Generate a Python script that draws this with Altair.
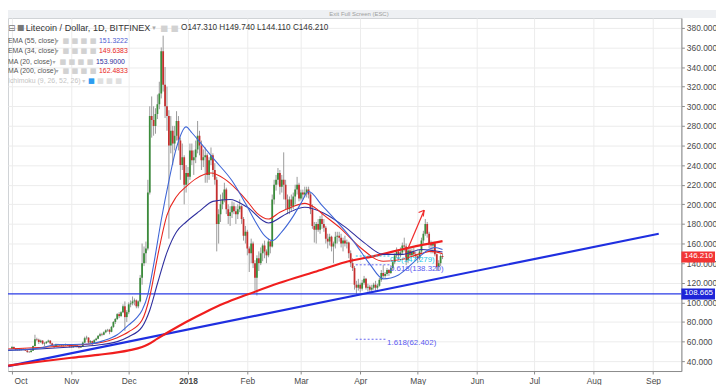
import altair as alt
import pandas as pd

# ---------------- daily candles: [open, high, low, close] ----------------
oct17 = [[53, 55.5, 52.5, 54.5], [54.5, 55, 52.5, 52.8], [52.8, 53.5, 51, 51.6], [51.6, 52.5, 50.8, 51.3],
         [51.3, 53, 50.8, 52], [52, 52.8, 51, 51.6], [51.6, 53, 51.2, 52.2], [52.2, 53, 50.5, 50.8],
         [50.8, 51.5, 48.5, 49.5], [49.5, 50.5, 48.5, 49.3], [49.3, 51.5, 49, 50.8], [50.8, 56, 50.5, 55.5],
         [55.5, 67, 55, 62.5], [62.5, 64, 60.5, 62], [62, 63, 57.5, 59.5], [59.5, 62, 58.5, 61],
         [61, 61.5, 57, 58], [58, 59.5, 55.5, 58.5], [58.5, 60.5, 57.5, 59.8], [59.8, 62, 59, 61],
         [61, 61.5, 57, 58.2], [58.2, 58.8, 55, 56], [56, 57, 53.5, 55], [55, 58, 54.5, 57.2],
         [57.2, 57.8, 55, 56], [56, 57.5, 55.5, 56.5], [56.5, 57, 55, 55.8], [55.8, 56.5, 55, 56.3],
         [56.3, 58, 55.5, 56.8], [56.8, 57.5, 55.5, 56.2], [56.2, 56.8, 54, 55]]
nov17 = [[55, 56, 53.5, 54.5], [54.5, 56, 53.5, 55.2], [55.2, 57.5, 54.5, 56], [56, 56.5, 54, 55],
         [55, 55.5, 53, 54], [54, 55.5, 53.5, 54.8], [54.8, 60, 54.5, 59], [59, 65, 58.5, 63.5],
         [63.5, 66, 62, 64], [64, 64.5, 58, 59], [59, 61.5, 58.5, 60.5], [60.5, 61, 56, 58],
         [58, 62.5, 57.5, 61.5], [61.5, 64, 61, 63], [63, 66.5, 62.5, 66], [66, 69, 65, 67.5],
         [67.5, 69, 65.5, 67], [67, 70.5, 66.5, 69.5], [69.5, 72.5, 68.5, 71.5], [71.5, 73, 70, 72],
         [72, 73, 67.5, 70], [70, 76, 69.5, 75], [75, 81, 74, 80], [80, 84, 78, 83],
         [83, 89, 82, 88], [88, 90, 84, 86], [86, 91, 85, 90], [90, 98, 89, 96],
         [96, 101, 71, 85], [85, 92, 80, 90]]
dec17 = [[90, 100, 88, 98], [98, 102, 95, 99], [99, 106, 97, 101], [101, 104, 97, 102],
         [102, 103, 94, 96], [96, 102, 94, 101], [101, 128, 100, 125], [125, 160, 118, 140],
         [140, 157, 137, 150], [150, 162, 140, 155], [155, 225, 153, 212], [212, 300, 210, 290],
         [290, 310, 268, 286], [286, 300, 270, 280], [280, 298, 272, 292], [292, 312, 287, 302],
         [302, 325, 297, 313], [313, 360, 308, 356], [356, 372, 315, 322], [322, 340, 288, 300],
         [300, 320, 275, 290], [290, 296, 165, 260], [260, 290, 252, 275], [275, 280, 240, 262],
         [262, 280, 255, 270], [270, 295, 265, 285], [285, 290, 255, 265], [265, 268, 225, 240],
         [240, 262, 235, 248], [248, 250, 200, 220], [220, 240, 212, 232]]
jan18 = [[232, 238, 220, 228], [228, 262, 225, 255], [255, 262, 240, 245], [245, 255, 230, 248],
         [248, 265, 242, 256], [256, 285, 252, 270], [270, 275, 250, 260], [260, 265, 235, 245],
         [245, 256, 238, 248], [248, 258, 222, 250], [250, 252, 222, 230], [230, 248, 225, 245],
         [245, 258, 240, 250], [250, 252, 228, 235], [235, 242, 220, 225], [225, 228, 152, 180],
         [180, 195, 160, 190], [190, 210, 182, 200], [200, 212, 195, 205], [205, 222, 202, 215],
         [215, 217, 190, 195], [195, 200, 180, 188], [188, 198, 178, 192], [192, 203, 186, 198],
         [198, 202, 190, 193], [193, 198, 180, 190], [190, 200, 185, 195], [195, 205, 192, 198],
         [198, 199, 180, 185], [185, 187, 163, 168], [168, 178, 160, 172]]
feb18 = [[172, 174, 148, 155], [155, 157, 131, 150], [150, 165, 140, 160], [160, 162, 135, 140],
         [140, 143, 112, 125], [125, 148, 107, 145], [145, 152, 132, 140], [140, 156, 138, 150],
         [150, 160, 142, 158], [158, 163, 145, 152], [152, 154, 140, 148], [148, 165, 146, 162],
         [162, 163, 150, 157], [157, 210, 156, 205], [205, 225, 200, 220], [220, 230, 214, 225],
         [225, 237, 220, 232], [232, 235, 210, 218], [218, 230, 212, 225], [225, 253, 205, 220],
         [220, 225, 195, 205], [205, 210, 190, 195], [195, 208, 190, 205], [205, 210, 193, 198],
         [198, 212, 195, 208], [208, 220, 200, 215], [215, 228, 210, 220], [220, 222, 203, 206]]
mar18 = [[206, 215, 204, 212], [212, 215, 205, 210], [210, 218, 207, 212], [212, 218, 207, 215],
         [215, 218, 206, 210], [210, 212, 190, 195], [195, 200, 175, 178], [178, 182, 161, 174],
         [174, 182, 160, 180], [180, 185, 172, 174], [174, 188, 170, 185], [185, 190, 175, 180],
         [180, 185, 172, 176], [176, 178, 160, 165], [165, 170, 155, 162], [162, 170, 158, 167],
         [167, 168, 152, 157], [157, 162, 140, 160], [160, 172, 155, 167], [167, 172, 160, 168],
         [168, 172, 162, 166], [166, 170, 156, 160], [160, 166, 152, 163], [163, 168, 157, 160],
         [160, 164, 155, 161], [161, 162, 145, 150], [150, 153, 136, 140], [140, 145, 132, 135],
         [135, 137, 113, 118], [118, 122, 108, 115], [115, 124, 112, 118]]
apr18 = [[118, 120, 110, 114], [114, 123, 112, 120], [120, 127, 118, 124], [124, 125, 113, 115],
         [115, 119, 111, 116], [116, 118, 110, 113], [113, 118, 111, 115], [115, 120, 113, 118],
         [118, 122, 112, 115], [115, 119, 113, 117], [117, 125, 116, 123], [123, 133, 121, 130],
         [130, 138, 125, 127], [127, 131, 125, 129], [129, 135, 127, 133], [133, 134, 127, 130],
         [130, 138, 129, 135], [135, 143, 133, 141], [141, 150, 139, 148], [148, 156, 145, 152],
         [152, 154, 144, 148], [148, 156, 146, 151], [151, 161, 149, 158], [158, 166, 152, 157],
         [157, 160, 138, 143], [143, 155, 140, 153], [153, 157, 146, 148], [148, 155, 147, 152],
         [152, 156, 146, 149], [149, 152, 144, 147]]
may18 = [[147, 149, 140, 145], [145, 154, 143, 152], [152, 166, 150, 163], [163, 173, 160, 170],
         [170, 185, 168, 180], [180, 182, 166, 170], [170, 172, 155, 160], [160, 163, 150, 158],
         [158, 162, 150, 160], [160, 162, 147, 149], [149, 150, 132, 136], [136, 143, 133, 140],
         [140, 149, 137, 147.31], [147.31, 149.74, 144.11, 146.21]]

# ---------------- indicator lines (read at sample dates) ----------------
ma200_pts = [("2017-09-29", 35.5), ("2017-10-15", 39.5), ("2017-11-01", 43.5), ("2017-11-15", 46.5),
             ("2017-12-01", 51), ("2017-12-08", 54.5), ("2017-12-11", 57), ("2017-12-16", 63),
             ("2017-12-22", 70), ("2017-12-31", 80), ("2018-01-10", 90), ("2018-01-20", 99),
             ("2018-02-01", 108), ("2018-02-18", 120), ("2018-03-08", 131), ("2018-03-24", 141),
             ("2018-04-10", 148), ("2018-04-27", 156), ("2018-05-14", 162.4833)]
ema55_pts = [("2017-09-29", 51), ("2017-10-15", 52.5), ("2017-11-01", 54.5), ("2017-11-15", 56.5),
             ("2017-11-25", 60), ("2017-12-01", 65), ("2017-12-08", 75), ("2017-12-12", 92),
             ("2017-12-16", 119), ("2017-12-21", 151), ("2017-12-26", 172), ("2017-12-31", 182),
             ("2018-01-07", 193), ("2018-01-14", 203), ("2018-01-23", 205), ("2018-02-01", 197),
             ("2018-02-12", 181), ("2018-02-22", 191), ("2018-03-03", 197), ("2018-03-13", 191),
             ("2018-03-24", 177), ("2018-04-03", 161), ("2018-04-13", 149), ("2018-04-23", 149),
             ("2018-05-03", 154), ("2018-05-14", 151.3222)]
ema34_pts = [("2017-09-29", 52.5), ("2017-10-15", 54), ("2017-11-01", 56), ("2017-11-15", 58.5),
             ("2017-11-25", 64), ("2017-12-01", 70), ("2017-12-08", 82), ("2017-12-12", 106),
             ("2017-12-16", 146), ("2017-12-21", 189), ("2017-12-26", 208), ("2017-12-31", 218),
             ("2018-01-05", 226), ("2018-01-13", 232), ("2018-01-20", 226), ("2018-01-27", 214),
             ("2018-02-01", 203), ("2018-02-06", 191), ("2018-02-12", 185), ("2018-02-18", 192),
             ("2018-02-24", 197), ("2018-03-03", 201), ("2018-03-08", 197), ("2018-03-13", 189),
             ("2018-03-22", 175), ("2018-04-01", 156), ("2018-04-13", 142), ("2018-04-23", 144),
             ("2018-05-03", 150), ("2018-05-08", 152), ("2018-05-14", 149.6383)]
ma20_pts = [("2017-09-29", 51.5), ("2017-10-08", 52), ("2017-10-16", 53.5), ("2017-10-25", 57),
            ("2017-11-02", 57), ("2017-11-10", 57.5), ("2017-11-18", 61), ("2017-11-25", 67),
            ("2017-12-01", 77), ("2017-12-05", 84), ("2017-12-08", 92), ("2017-12-11", 108),
            ("2017-12-14", 138), ("2017-12-18", 184), ("2017-12-22", 224), ("2017-12-26", 258),
            ("2017-12-31", 279), ("2018-01-03", 273), ("2018-01-07", 264), ("2018-01-15", 245),
            ("2018-01-24", 224), ("2018-01-31", 201), ("2018-02-05", 183), ("2018-02-10", 168),
            ("2018-02-14", 163), ("2018-02-19", 172), ("2018-02-25", 188), ("2018-03-01", 201),
            ("2018-03-05", 213), ("2018-03-12", 199), ("2018-03-20", 182), ("2018-03-29", 161),
            ("2018-04-06", 139), ("2018-04-13", 124), ("2018-04-21", 128), ("2018-04-29", 141),
            ("2018-05-06", 153), ("2018-05-10", 156), ("2018-05-14", 153.9)]

# drawings
trend_pts = [("2017-09-29", 35), ("2018-09-04", 170)]
support_level = [108.665]
last_close = 146.21
fib_ratio = ["0.5", "0.618", "1.618"]
fib_price = [147.279, 138.320, 62.402]
fib_start = ["2018-03-29T16:00:00", "2018-03-29T16:00:00", "2018-03-29T16:00:00"]
fib_end = ["2018-04-16T12:00:00", "2018-04-16T12:00:00", "2018-04-15T00:00:00"]
arrow_seg = ["shaft", "shaft", "head1", "head1", "head2", "head2"]
arrow_date = ["2018-04-25T17:00:00", "2018-05-04T10:00:00", "2018-05-01T12:00:00", "2018-05-04T10:00:00",
              "2018-05-03T22:00:00", "2018-05-04T10:00:00"]
arrow_val = [154, 194, 191.6, 194, 187.6, 194]

month_ticks = [(2017, 10), (2017, 11), (2017, 12), (2018, 1), (2018, 2), (2018, 3), (2018, 4),
               (2018, 5), (2018, 6), (2018, 7), (2018, 8), (2018, 9)]
y_ticks = list(range(40, 381, 20))

# ---------------- tables ----------------
rows = oct17 + nov17 + dec17 + jan18 + feb18 + mar18 + apr18 + may18
dates = pd.date_range("2017-10-01", periods=len(rows), freq="D").strftime("%Y-%m-%d")
candles = pd.DataFrame(rows, columns=["open", "high", "low", "close"])
candles["date"] = list(dates)


def pts_df(pts):
    return pd.DataFrame(pts, columns=["date", "v"])


fib_df = pd.DataFrame({"ratio": fib_ratio, "price": fib_price, "date": fib_start, "date2": fib_end})
fib_df["label"] = [f"{r}({p:.3f})" for r, p in zip(fib_ratio, fib_price)]
arrow_df = pd.DataFrame({"seg": arrow_seg, "date": arrow_date, "v": arrow_val})
support_df = pd.DataFrame({"v": support_level})
one = pd.DataFrame({"k": [0]})

FONT = "Liberation Sans"
W, H = 681, 357

xscale = alt.Scale(type="utc",
                   domain=[alt.DateTime(year=2017, month=10, date=1, hours=12, utc=True),
                           alt.DateTime(year=2018, month=9, date=13, hours=6, utc=True)])
yscale = alt.Scale(domain=[30, 390], nice=False, zero=False)

IS_JAN = "utcFormat(datum.value, '%m') == '01'"
IS_OCT = "utcFormat(datum.value, '%m') == '10'"
xaxis = alt.Axis(values=[alt.DateTime(year=y, month=m, date=1, utc=True) for y, m in month_ticks],
                 labelExpr=f"{IS_JAN} ? utcFormat(datum.value, '%Y') : utcFormat(datum.value, '%b')",
                 labelFontWeight={"condition": {"test": IS_JAN, "value": "bold"}, "value": "normal"},
                 labelAlign={"condition": {"test": IS_OCT, "value": "left"}, "value": "center"},
                 labelOffset={"condition": {"test": IS_OCT, "value": 2}, "value": 0},
                 title=None, tickSize=3, labelPadding=3, grid=True, labelFlush=False, labelOverlap=False)
yaxis = alt.Axis(values=y_ticks, orient="right", labelExpr="format(datum.value, '.3f')", title=None,
                 tickSize=3, labelPadding=2, grid=True, labelOverlap=False)


def X(field="date"):
    return alt.X(f"{field}:T", scale=xscale, axis=xaxis, title=None)


def Y(field):
    return alt.Y(f"{field}:Q", scale=yscale, axis=yaxis, title=None)


GREEN, RED, WICK = "#3b8c3b", "#c62f2f", "#9a9a9a"

wicks = alt.Chart(candles).mark_rule(color=WICK, strokeWidth=1, clip=True).encode(
    x=X(), y=Y("low"), y2="high:Q")
bodies = alt.Chart(candles).mark_bar(size=1.8, clip=True).encode(
    x=X(), y=Y("open"), y2="close:Q",
    color=alt.condition("datum.close >= datum.open", alt.value(GREEN), alt.value(RED)))


def ma_line(pts, color, width):
    return alt.Chart(pts_df(pts)).mark_line(color=color, strokeWidth=width, interpolate="monotone",
                                            clip=True).encode(x=X(), y=Y("v"))


ma200 = ma_line(ma200_pts, "#f01e1e", 2.2)
ema55 = ma_line(ema55_pts, "#2e2e9e", 1.1)
ema34 = ma_line(ema34_pts, "#e8261e", 1.1)
ma20 = ma_line(ma20_pts, "#3f66d6", 1.1)

trend = alt.Chart(pts_df(trend_pts)).mark_line(color="#1f2fe0", strokeWidth=2.2, clip=True).encode(
    x=X(), y=Y("v"))
support = alt.Chart(support_df).mark_rule(color="#2a3be6", strokeWidth=1.4).encode(
    y=Y("v"), x=alt.value(0), x2=alt.value(W))

fib_lines = alt.Chart(fib_df).mark_rule(strokeWidth=1, strokeDash=[2, 2]).encode(
    x=X(), x2="date2:T", y=Y("price"),
    color=alt.condition("datum.ratio == '0.5'", alt.value("#22c8e8"), alt.value("#6464f0")))
fib_text = alt.Chart(fib_df).mark_text(align="left", baseline="middle", dy=4, fontSize=8, font=FONT).encode(
    x=alt.X("date2:T", scale=xscale, axis=xaxis, title=None), y=Y("price"), text="label:N",
    color=alt.condition("datum.ratio == '0.5'", alt.value("#22c8e8"), alt.value("#5a5af0")))

arrow = alt.Chart(arrow_df).mark_line(color="#f02a2a", strokeWidth=1.2).encode(
    x=X(), y=Y("v"), detail="seg:N")

# right-side price boxes
box_df = pd.DataFrame({"v": [last_close, support_level[0]], "col": ["#f23434", "#1e24d8"]})
box_df["lo"] = box_df["v"] - 5.6
box_df["hi"] = box_df["v"] + 5.6
box_df["txt"] = [f"{v:.3f}" for v in box_df["v"]]
boxes = alt.Chart(box_df).mark_rect().encode(
    y=Y("lo"), y2="hi:Q",
    x=alt.value(W), x2=alt.value(W + 34), color=alt.Color("col:N", scale=None))
box_text = alt.Chart(box_df).mark_text(align="left", baseline="middle", color="white", fontSize=8,
                                       dy=-1, font=FONT).encode(
    y=Y("v"), x=alt.value(W + 3), text="txt:N")


def txt(s, x, y, size, color, weight="normal", font=FONT):
    return alt.Chart(one).mark_text(text=s, align="left", baseline="middle", fontSize=size, color=color,
                                    fontWeight=weight, font=font).encode(x=alt.value(x), y=alt.value(y))


band = alt.Chart(one).mark_rect(color="#eef0f3").encode(
    x=alt.value(0), x2=alt.value(W + 35), y=alt.value(-8), y2=alt.value(0))

ICON = "#d2d2d2"
RS = 7.0
IS = 7.3
legend = [
    band,
    txt("Exit Full Screen (ESC)", 325, -4, 6, "#a0a0a0"),
    txt("⊟", 0, 10, 9, "#777", font="DejaVu Sans"),
    txt("■", 9, 10, 8, "#777", font="DejaVu Sans"),
    txt("Litecoin / Dollar, 1D, BITFINEX", 18, 10, 9.2, "#333"),
    txt("▾", 146, 10, 7, "#aaa", font="DejaVu Sans"),
    txt("■ ■", 154, 10, 8.5, ICON, font="DejaVu Sans"),
    txt("O147.310  H149.740  L144.110  C146.210", 175, 10, 8.3, "#333"),
    txt("EMA (55, close)", 0, 23, RS, "#555"),
    txt("▾", 48, 23, 6, "#aaa", font="DejaVu Sans"),
    txt("■ ■ ■ ■", 55, 23, IS, ICON, font="DejaVu Sans"),
    txt("151.3222", 92, 23, RS, "#4c5cd0"),
    txt("EMA (34, close)", 0, 33, RS, "#555"),
    txt("▾", 48, 33, 6, "#aaa", font="DejaVu Sans"),
    txt("■ ■ ■ ■", 55, 33, IS, ICON, font="DejaVu Sans"),
    txt("149.6383", 92, 33, RS, "#e8261e"),
    txt("MA (20, close)", 0, 44, RS, "#555"),
    txt("▾", 45, 44, 6, "#aaa", font="DejaVu Sans"),
    txt("■ ■ ■ ■", 52, 44, IS, ICON, font="DejaVu Sans"),
    txt("153.9000", 89, 44, RS, "#2e2e9e"),
    txt("MA (200, close)", 0, 54, RS, "#555"),
    txt("▾", 48, 54, 6, "#aaa", font="DejaVu Sans"),
    txt("■ ■ ■ ■", 55, 54, IS, ICON, font="DejaVu Sans"),
    txt("162.4833", 92, 54, RS, "#e8261e"),
    txt("Ichimoku (9, 26, 52, 26)", 0, 64, RS, "#c4c4c4"),
    txt("▾", 75, 64, 6, "#ccc", font="DejaVu Sans"),
    txt("■", 81, 64, IS, "#2d9cf0", font="DejaVu Sans"),
    txt("■ ■ ■", 90, 64, IS, "#e0e0e0", font="DejaVu Sans"),
]

chart = alt.layer(
    wicks, bodies, support, trend, ma200, ema55, ema34, ma20,
    fib_lines, fib_text, arrow, boxes, box_text, *legend
).properties(
    width=W, height=H,
    autosize=alt.AutoSizeParams(type="none"),
    padding={"left": 0, "top": 8, "right": 35, "bottom": 12},
).configure_view(
    stroke="#cfd2d6", strokeWidth=1
).configure_axis(
    gridColor="#ececec", gridWidth=1, domainColor="#8c8c8c", tickColor="#8c8c8c",
    labelColor="#4a4a4a", labelFont=FONT, labelFontSize=8.5
)

chart.save("out.html", embed_options={"renderer": "svg", "actions": False})
